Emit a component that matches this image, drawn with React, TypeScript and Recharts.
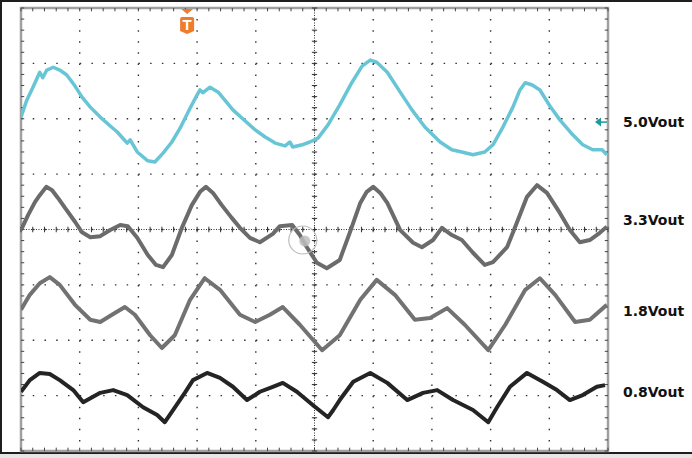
import {
  LineChart,
  Line,
  XAxis,
  YAxis,
  CartesianGrid,
  ReferenceLine,
  ReferenceArea,
  ReferenceDot,
} from "recharts";

// time and level are in scope divisions (10 across, 8 up)
const cyanT = [0, 0.1, 0.2, 0.32, 0.37, 0.44, 0.55, 0.66, 0.78, 0.92, 1.04, 1.18, 1.35, 1.52, 1.64, 1.75, 1.81, 1.86, 1.98, 2.16, 2.28, 2.42, 2.57, 2.71, 2.88, 3.0, 3.05, 3.1, 3.22, 3.36, 3.61, 3.82, 3.99, 4.16, 4.33, 4.5, 4.58, 4.63, 4.79, 4.92, 5.06, 5.23, 5.43, 5.64, 5.81, 5.95, 6.06, 6.24, 6.46, 6.66, 6.88, 7.14, 7.34, 7.51, 7.7, 7.9, 8.04, 8.21, 8.38, 8.5, 8.59, 8.71, 8.84, 9.01, 9.18, 9.4, 9.57, 9.74, 9.9, 9.98];
const cyanV = [6.03, 6.34, 6.56, 6.84, 6.74, 6.88, 6.93, 6.88, 6.79, 6.59, 6.39, 6.21, 6.03, 5.87, 5.76, 5.63, 5.56, 5.62, 5.4, 5.24, 5.22, 5.38, 5.58, 5.83, 6.19, 6.43, 6.52, 6.47, 6.57, 6.48, 6.16, 5.96, 5.8, 5.67, 5.56, 5.51, 5.58, 5.49, 5.53, 5.58, 5.65, 5.89, 6.25, 6.66, 6.95, 7.06, 7.02, 6.84, 6.48, 6.16, 5.85, 5.58, 5.44, 5.4, 5.35, 5.4, 5.53, 5.85, 6.21, 6.52, 6.65, 6.61, 6.52, 6.23, 5.98, 5.71, 5.53, 5.44, 5.44, 5.35];

const v33T = [0, 0.12, 0.24, 0.32, 0.43, 0.53, 0.63, 0.75, 0.92, 1.04, 1.18, 1.35, 1.52, 1.69, 1.82, 1.98, 2.16, 2.3, 2.42, 2.57, 2.74, 2.91, 3.05, 3.15, 3.27, 3.42, 3.59, 3.73, 3.9, 4.07, 4.29, 4.41, 4.62, 4.75, 4.87, 5.04, 5.21, 5.43, 5.6, 5.78, 5.89, 6.0, 6.12, 6.24, 6.46, 6.68, 6.83, 7.02, 7.17, 7.34, 7.51, 7.7, 7.9, 8.04, 8.28, 8.42, 8.62, 8.79, 8.96, 9.18, 9.35, 9.52, 9.69, 9.86, 9.98];
const v33V = [3.99, 4.26, 4.5, 4.62, 4.77, 4.71, 4.57, 4.39, 4.14, 3.95, 3.86, 3.88, 3.99, 4.08, 4.06, 3.85, 3.54, 3.36, 3.32, 3.54, 4.03, 4.44, 4.68, 4.77, 4.66, 4.44, 4.21, 4.03, 3.85, 3.77, 3.92, 4.06, 4.08, 3.9, 3.68, 3.4, 3.3, 3.45, 3.94, 4.48, 4.68, 4.77, 4.66, 4.48, 3.99, 3.76, 3.68, 3.81, 4.03, 3.9, 3.81, 3.58, 3.36, 3.41, 3.68, 4.05, 4.59, 4.8, 4.66, 4.3, 3.99, 3.77, 3.81, 3.94, 4.05];

const v18T = [0, 0.15, 0.32, 0.49, 0.66, 0.92, 1.18, 1.35, 1.55, 1.77, 1.94, 2.2, 2.4, 2.62, 2.88, 3.13, 3.39, 3.73, 3.99, 4.24, 4.46, 4.75, 5.13, 5.43, 5.78, 6.06, 6.37, 6.71, 6.97, 7.26, 7.56, 7.96, 8.25, 8.59, 8.84, 9.1, 9.44, 9.69, 9.98];
const v18V = [2.55, 2.82, 3.03, 3.14, 3.0, 2.64, 2.37, 2.33, 2.46, 2.6, 2.46, 2.09, 1.86, 2.09, 2.73, 3.12, 2.91, 2.46, 2.33, 2.46, 2.6, 2.28, 1.82, 2.09, 2.73, 3.09, 2.82, 2.37, 2.4, 2.58, 2.28, 1.82, 2.28, 2.91, 3.12, 2.82, 2.33, 2.37, 2.64];

const v08T = [0, 0.15, 0.32, 0.49, 0.66, 0.89, 1.06, 1.35, 1.57, 1.81, 2.08, 2.32, 2.45, 2.59, 2.79, 2.93, 3.17, 3.39, 3.61, 3.85, 4.07, 4.29, 4.46, 4.7, 4.97, 5.23, 5.32, 5.43, 5.66, 5.95, 6.24, 6.58, 6.85, 7.09, 7.36, 7.7, 7.96, 8.11, 8.33, 8.62, 8.89, 9.13, 9.35, 9.57, 9.81, 9.95];
const v08V = [1.07, 1.28, 1.41, 1.39, 1.28, 1.1, 0.88, 1.05, 1.1, 1.01, 0.79, 0.65, 0.52, 0.74, 1.05, 1.28, 1.41, 1.32, 1.16, 0.92, 1.07, 1.16, 1.23, 1.07, 0.83, 0.61, 0.74, 0.92, 1.25, 1.41, 1.23, 0.92, 1.05, 1.1, 0.92, 0.74, 0.52, 0.79, 1.16, 1.41, 1.25, 1.1, 0.92, 1.01, 1.16, 1.19];

const labels = ["5.0Vout", "3.3Vout", "1.8Vout", "0.8Vout"];
const labelLevels = [5.94, 4.17, 2.53, 1.07];

const majorX = [0, 1, 2, 3, 4, 5, 6, 7, 8, 9, 10];
const majorY = [0, 1, 2, 3, 4, 5, 6, 7, 8];
const minorX = Array.from({ length: 51 }, (_, i) => i / 5);
const minorY = Array.from({ length: 41 }, (_, i) => i / 5);

const zip = (t: number[], v: number[]) => t.map((x, i) => ({ t: x, v: v[i] }));

const TriggerMark = ({ cx, cy }: any) => (
  <g>
    <path d={`M${cx - 6},${cy + 1} L${cx + 6},${cy + 1} L${cx},${cy + 6} Z`} fill="#f07b2c" />
    <path
      d={`M${cx - 7},${cy + 11} Q${cx - 7},${cy + 9} ${cx - 5},${cy + 9} L${cx + 5},${cy + 9} Q${cx + 7},${cy + 9} ${cx + 7},${cy + 11} L${cx + 7},${cy + 23} L${cx},${cy + 26} L${cx - 7},${cy + 23} Z`}
      fill="#f07b2c"
    />
    <text x={cx} y={cy + 22} textAnchor="middle" fill="#fff" fontSize={15} fontWeight="bold" fontFamily="Liberation Sans, Arial, sans-serif">
      T
    </text>
  </g>
);

const LevelArrow = ({ cx, cy }: any) => (
  <g>
    <path d={`M${cx - 13},${cy} L${cx - 7},${cy - 4.5} L${cx - 7},${cy + 4.5} Z`} fill="#1a9c9c" />
    <line x1={cx - 8} y1={cy} x2={cx - 1} y2={cy} stroke="#1a9c9c" strokeWidth={1.5} />
  </g>
);

const Cursor = ({ cx, cy }: any) => (
  <g>
    <circle cx={cx} cy={cy} r={14} fill="none" stroke="#bdbdbd" strokeWidth={1.2} />
    <circle cx={cx + 2} cy={cy + 1} r={5.5} fill="#bdbdbd" fillOpacity={0.85} />
  </g>
);

const ChannelLabel = (text: string) => ({ cx, cy }: any) => (
  <text x={cx + 15} y={cy + 5} fill="#111" fontSize={14} fontWeight="bold" fontFamily="DejaVu Sans, sans-serif">
    {text}
  </text>
);

export default function App() {
  return (
    <div style={{ position: "absolute", left: 0, top: 0, width: 692, height: 458, background: "#e6e6e6" }}>
      <div
        style={{
          position: "absolute",
          left: 0,
          top: 0,
          width: 692,
          height: 454,
          boxSizing: "border-box",
          background: "#fff",
          borderTop: "2px solid #1e1e1e",
          borderLeft: "2px solid #1e1e1e",
          borderBottom: "2px solid #1e1e1e",
        }}
      />
      <div style={{ position: "absolute", left: 0, top: 0 }}>
        <LineChart width={692} height={458} margin={{ top: 8, left: 21, right: 84, bottom: 7 }}>
          <XAxis type="number" dataKey="t" domain={[0, 10]} ticks={majorX} hide allowDataOverflow />
          <YAxis type="number" dataKey="v" domain={[0, 8]} ticks={majorY} hide allowDataOverflow />
          <CartesianGrid horizontal vertical={false} stroke="#333" strokeWidth={1.4} strokeDasharray="1.5 10.24" />
          <CartesianGrid horizontal={false} vertical stroke="#333" strokeWidth={1.4} strokeDasharray="1.5 9.575" />
          <ReferenceLine y={4} stroke="#333" strokeDasharray="1 1.5" />
          <ReferenceLine x={5} stroke="#333" strokeDasharray="1 1.5" />
          {minorX.map((x) => (
            <ReferenceLine key={"cx" + x} segment={[{ x, y: 3.95 }, { x, y: 4.05 }]} stroke="#333" />
          ))}
          {minorY.map((y) => (
            <ReferenceLine key={"cy" + y} segment={[{ x: 4.955, y }, { x: 5.045, y }]} stroke="#333" />
          ))}
          {minorX.map((x) => (
            <ReferenceLine key={"tx" + x} segment={[{ x, y: 8 }, { x, y: 7.94 }]} stroke="#444" />
          ))}
          {minorX.map((x) => (
            <ReferenceLine key={"bx" + x} segment={[{ x, y: 0 }, { x, y: 0.06 }]} stroke="#444" />
          ))}
          {minorY.map((y) => (
            <ReferenceLine key={"ly" + y} segment={[{ x: 0, y }, { x: 0.055, y }]} stroke="#444" />
          ))}
          {minorY.map((y) => (
            <ReferenceLine key={"ry" + y} segment={[{ x: 10, y }, { x: 9.945, y }]} stroke="#444" />
          ))}
          <ReferenceArea x1={0} x2={10} y1={0} y2={8} fill="none" stroke="#a0a0a0" strokeWidth={2.5} />
          <Line data={zip(cyanT, cyanV)} dataKey="v" type="linear" stroke="#68c5d6" strokeWidth={3.5} dot={false} isAnimationActive={false} strokeLinejoin="round" />
          <Line data={zip(v33T, v33V)} dataKey="v" type="linear" stroke="#6b6b6b" strokeWidth={4} dot={false} isAnimationActive={false} strokeLinejoin="round" />
          <Line data={zip(v18T, v18V)} dataKey="v" type="linear" stroke="#727272" strokeWidth={4} dot={false} isAnimationActive={false} strokeLinejoin="round" />
          <Line data={zip(v08T, v08V)} dataKey="v" type="linear" stroke="#242424" strokeWidth={4} dot={false} isAnimationActive={false} strokeLinejoin="round" />
          <ReferenceDot x={4.8} y={3.81} shape={Cursor} />
          <ReferenceDot x={2.83} y={8} shape={TriggerMark} />
          <ReferenceDot x={10} y={labelLevels[0]} shape={LevelArrow} />
          {labels.map((l, i) => (
            <ReferenceDot key={l} x={10} y={labelLevels[i]} shape={ChannelLabel(l)} />
          ))}
        </LineChart>
      </div>
    </div>
  );
}
